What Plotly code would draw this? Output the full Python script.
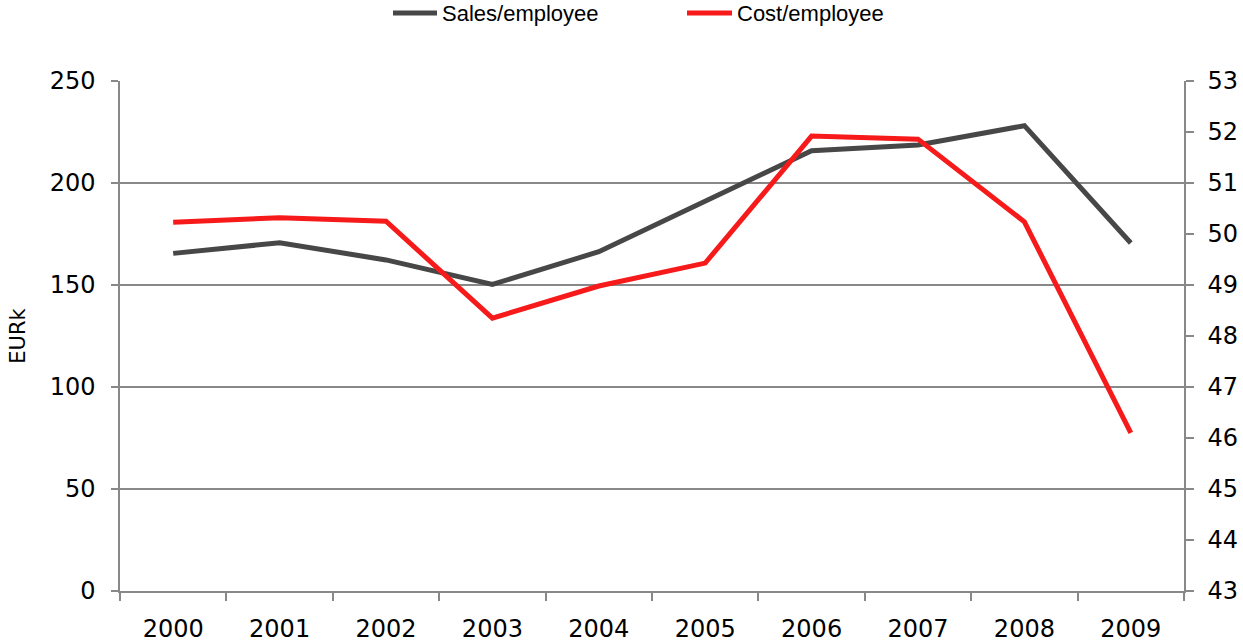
import plotly.graph_objects as go

years = ["2000", "2001", "2002", "2003", "2004", "2005", "2006", "2007", "2008", "2009"]
sales_per_employee = [165.5, 170.7, 162.3, 150.3, 166.3, 190.8, 215.8, 218.6, 228.1, 170.6]
cost_per_employee = [50.23, 50.32, 50.25, 48.35, 48.98, 49.43, 51.92, 51.86, 50.24, 46.10]
left_ticks = [0, 50, 100, 150, 200, 250]
right_ticks = list(range(43, 54))
series_names = ["Sales/employee", "Cost/employee"]
series_colors = ["#474747", "#f61a1a"]

TICK_FONT = dict(family="DejaVu Sans", size=24, color="#000000")
LEGEND_FONT = dict(family="Liberation Sans", size=22, color="#000000")
AXIS_GREY = "#888888"

W, H = 1243, 644
M_L, M_R, M_T, M_B = 120, 59, 81, 53
plot_w = W - M_L - M_R
plot_h = H - M_T - M_B


def px_to_paper(px, py):
    return (px - M_L) / plot_w, (H - M_B - py) / plot_h


fig = go.Figure()
fig.add_trace(go.Scatter(
    x=years, y=sales_per_employee, name=series_names[0], mode="lines",
    line=dict(color=series_colors[0], width=5), yaxis="y",
))
fig.add_trace(go.Scatter(
    x=years, y=cost_per_employee, name=series_names[1], mode="lines",
    line=dict(color=series_colors[1], width=5), yaxis="y2",
))

# Legend row above the plot: a short line swatch followed by the series name
legend_items = [(393, 437, 440), (687, 732, 735)]
shapes, annotations = [], []
for (x0, x1, tx), name, color in zip(legend_items, series_names, series_colors):
    px0, py = px_to_paper(x0, 13)
    px1, _ = px_to_paper(x1, 13)
    shapes.append(dict(type="line", xref="paper", yref="paper", x0=px0, x1=px1, y0=py, y1=py,
                       line=dict(color=color, width=5)))
    ptx, _ = px_to_paper(tx, 13)
    annotations.append(dict(xref="paper", yref="paper", x=ptx, y=py, xanchor="left", yanchor="middle",
                            text=name, showarrow=False, font=LEGEND_FONT))

fig.update_layout(
    width=W, height=H,
    margin=dict(l=M_L, r=M_R, t=M_T, b=M_B, autoexpand=False),
    plot_bgcolor="white", paper_bgcolor="white",
    showlegend=False,
    shapes=shapes, annotations=annotations,
    xaxis=dict(
        type="category", tickson="boundaries", ticks="outside", ticklen=8,
        tickcolor=AXIS_GREY, tickwidth=1.5, showline=True, linecolor=AXIS_GREY, linewidth=1.5,
        showgrid=False, tickfont=TICK_FONT, ticklabelstandoff=15,
        range=[-0.5, 9.5], automargin=False,
    ),
    yaxis=dict(
        range=[0, 250], tickvals=left_ticks, ticks="outside", ticklen=7,
        tickcolor=AXIS_GREY, tickwidth=1.5, showline=True, linecolor=AXIS_GREY, linewidth=1.5,
        showgrid=True, gridcolor=AXIS_GREY, gridwidth=1.5, zeroline=False,
        tickfont=TICK_FONT, ticklabelstandoff=11, automargin=False,
        title=dict(text="EURk", font=dict(family="DejaVu Sans", size=21, color="#000000"), standoff=18),
    ),
    yaxis2=dict(
        range=[43, 53], tickvals=right_ticks, overlaying="y", side="right",
        ticks="outside", ticklen=8, tickcolor=AXIS_GREY, tickwidth=1.5,
        showline=True, linecolor=AXIS_GREY, linewidth=1.5, showgrid=False, zeroline=False,
        tickfont=TICK_FONT, ticklabelstandoff=9, automargin=False,
    ),
)

fig.write_html("out.html")
